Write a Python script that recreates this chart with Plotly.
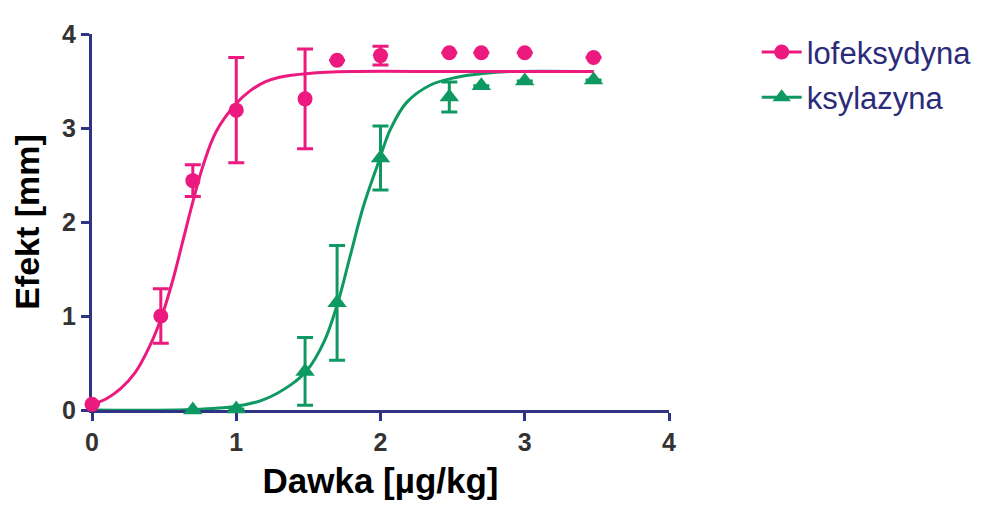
import plotly.graph_objects as go

# ---- data ----
lof_x = [0, 0.477, 0.699, 1.0, 1.477, 1.699, 2.0, 2.477, 2.699, 3.0, 3.477]
lof_y = [0.06, 1.0, 2.44, 3.19, 3.31, 3.72, 3.77, 3.80, 3.80, 3.80, 3.75]
lof_err = [None, 0.29, 0.17, 0.56, 0.53, None, 0.10, None, None, None, None]

ksy_x = [0.699, 1.0, 1.477, 1.699, 2.0, 2.477, 2.699, 3.0, 3.477]
ksy_y = [0.0, 0.01, 0.41, 1.14, 2.68, 3.33, 3.45, 3.50, 3.51]
ksy_err = [None, None, 0.36, 0.61, 0.34, 0.16, None, None, None]

# fitted curves
lof_fit_x = [0, 0.1, 0.2, 0.3, 0.4, 0.48, 0.56, 0.63, 0.7, 0.77, 0.86, 1.0, 1.1, 1.2, 1.3, 1.5, 1.8, 2.5, 3.477]
lof_fit_y = [0.06, 0.12, 0.23, 0.40, 0.68, 0.98, 1.38, 1.80, 2.22, 2.60, 2.96, 3.26, 3.40, 3.49, 3.54, 3.58, 3.60, 3.60, 3.60]
ksy_fit_x = [0, 0.7, 1.0, 1.19, 1.38, 1.49, 1.61, 1.70, 1.79, 1.88, 1.98, 2.07, 2.18, 2.35, 2.53, 2.71, 2.9, 3.477]
ksy_fit_y = [0.0, 0.005, 0.04, 0.11, 0.27, 0.42, 0.73, 1.12, 1.64, 2.16, 2.61, 2.99, 3.27, 3.46, 3.54, 3.58, 3.60, 3.60]

series_names = ["lofeksydyna", "ksylazyna"]
x_ticks = [0, 1, 2, 3, 4]
y_ticks = [0, 1, 2, 3, 4]

PINK = "#EC1A7E"
GREEN = "#0F9962"
NAVY = "#2E3384"
TICK = "#333333"
FONT = "Liberation Sans, Arial, sans-serif"

fig = go.Figure()

# ksylazyna
fig.add_trace(go.Scatter(x=ksy_fit_x, y=ksy_fit_y, mode="lines", line=dict(color=GREEN, width=3, shape="spline"),
                         showlegend=False, hoverinfo="skip", cliponaxis=False))
fig.add_trace(go.Scatter(x=ksy_x, y=ksy_y, mode="markers",
                         marker=dict(symbol="triangle-up", size=17, color=GREEN),
                         error_y=dict(type="data", array=ksy_err, color=GREEN, thickness=3, width=8),
                         showlegend=False, cliponaxis=False))
# lofeksydyna
fig.add_trace(go.Scatter(x=lof_fit_x, y=lof_fit_y, mode="lines", line=dict(color=PINK, width=3, shape="spline"),
                         showlegend=False, hoverinfo="skip", cliponaxis=False))
fig.add_trace(go.Scatter(x=lof_x, y=lof_y, mode="markers",
                         marker=dict(symbol="circle", size=15, color=PINK),
                         error_y=dict(type="data", array=lof_err, color=PINK, thickness=3, width=8),
                         showlegend=False, cliponaxis=False))

# legend entries
fig.add_trace(go.Scatter(x=[None], y=[None], mode="lines+markers", name=series_names[0],
                         line=dict(color=PINK, width=3), marker=dict(symbol="circle", size=15, color=PINK),
                         legendgroup="a"))
fig.add_trace(go.Scatter(x=[None], y=[None], mode="lines+markers", name=series_names[1],
                         line=dict(color=GREEN, width=3), marker=dict(symbol="triangle-up", size=17, color=GREEN),
                         legendgroup="b"))

axis_common = dict(
    showline=True, linewidth=3, linecolor=NAVY,
    ticks="outside", ticklen=8, tickwidth=3, tickcolor=NAVY,
    showgrid=False, zeroline=False, layer="below traces",
    tickfont=dict(family=FONT, size=25, color=TICK, weight="bold"),
)

fig.update_layout(
    width=993, height=513,
    margin=dict(l=83, r=332, t=18, b=111),
    plot_bgcolor="white", paper_bgcolor="white",
    xaxis=dict(range=[0, 4], tickvals=x_ticks, **axis_common,
               title=dict(text="Dawka [µg/kg]", standoff=14,
                          font=dict(family=FONT, size=35, color="black", weight="bold"))),
    yaxis=dict(range=[0, 4], tickvals=y_ticks, **axis_common,
               title=dict(text="Efekt [mm]", standoff=18,
                          font=dict(family=FONT, size=34, color="black", weight="bold"))),
    legend=dict(x=1.152, y=1.023, xanchor="left", yanchor="top",
                font=dict(family=FONT, size=31, color="#2B2B7A"),
                itemwidth=40,
                traceorder="grouped", tracegroupgap=2, bgcolor="rgba(0,0,0,0)"),
)

fig.write_html("out.html")
